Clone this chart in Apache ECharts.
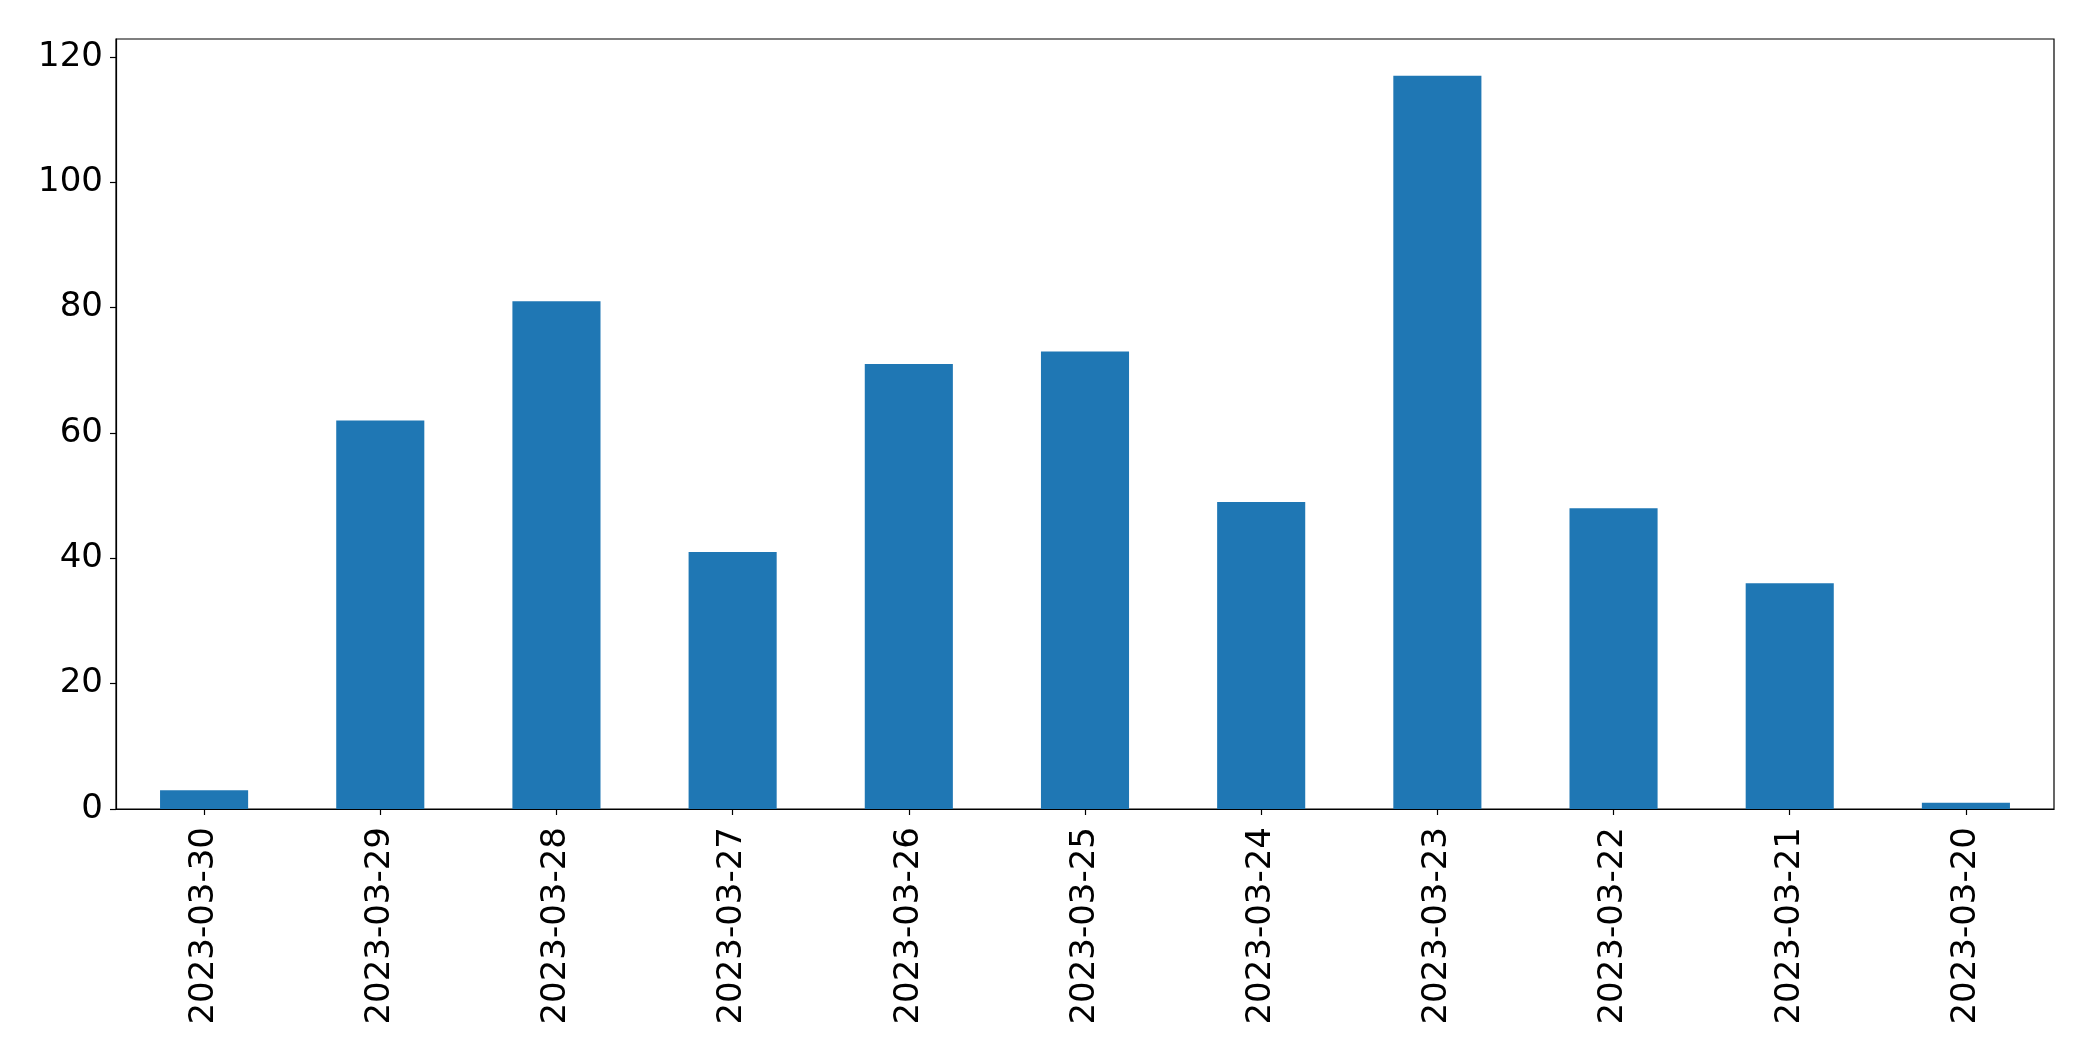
<!DOCTYPE html>
<html><head><meta charset="utf-8">
<script src="https://cdn.jsdelivr.net/npm/echarts@6/dist/echarts.min.js"></script>
<style>html,body{margin:0;padding:0;background:#fff}#c{width:2093px;height:1061px}</style>
</head><body><div id="c"></div>
<script>
const categories = ["2023-03-30","2023-03-29","2023-03-28","2023-03-27","2023-03-26","2023-03-25","2023-03-24","2023-03-23","2023-03-22","2023-03-21","2023-03-20"];
const values = [3, 62, 81, 41, 71, 73, 49, 117, 48, 36, 1];
const yTicks = [0, 20, 40, 60, 80, 100, 120];

const chart = echarts.init(document.getElementById('c'), null, {renderer: 'canvas'});
const font = 'DejaVu Sans';
chart.setOption({
  animation: false,
  backgroundColor: '#ffffff',
  grid: {left: 116, right: 39, top: 39, bottom: 252, show: true, borderColor: '#000', borderWidth: 1.2, backgroundColor: 'transparent'},
  xAxis: {
    type: 'category', data: categories, boundaryGap: true,
    axisLine: {show: true, lineStyle: {color: '#000', width: 1.2}},
    axisTick: {show: true, alignWithLabel: true, length: 6, lineStyle: {color: '#000', width: 1.2}},
    axisLabel: {rotate: 90, margin: 18, color: '#000', fontFamily: font, fontSize: 34, interval: 0},
    splitLine: {show: false}
  },
  yAxis: {
    type: 'value', min: 0, max: 122.85,
    axisLine: {show: true, lineStyle: {color: '#000', width: 1.2}},
    axisTick: {show: true, length: 6, customValues: yTicks, lineStyle: {color: '#000', width: 1.2}},
    axisLabel: {customValues: yTicks, margin: 13, color: '#000', fontFamily: font, fontSize: 34},
    splitLine: {show: false}
  },
  series: [{
    type: 'bar', data: values, barWidth: '50%',
    itemStyle: {color: '#1f77b4'}
  }]
});
</script></body></html>
